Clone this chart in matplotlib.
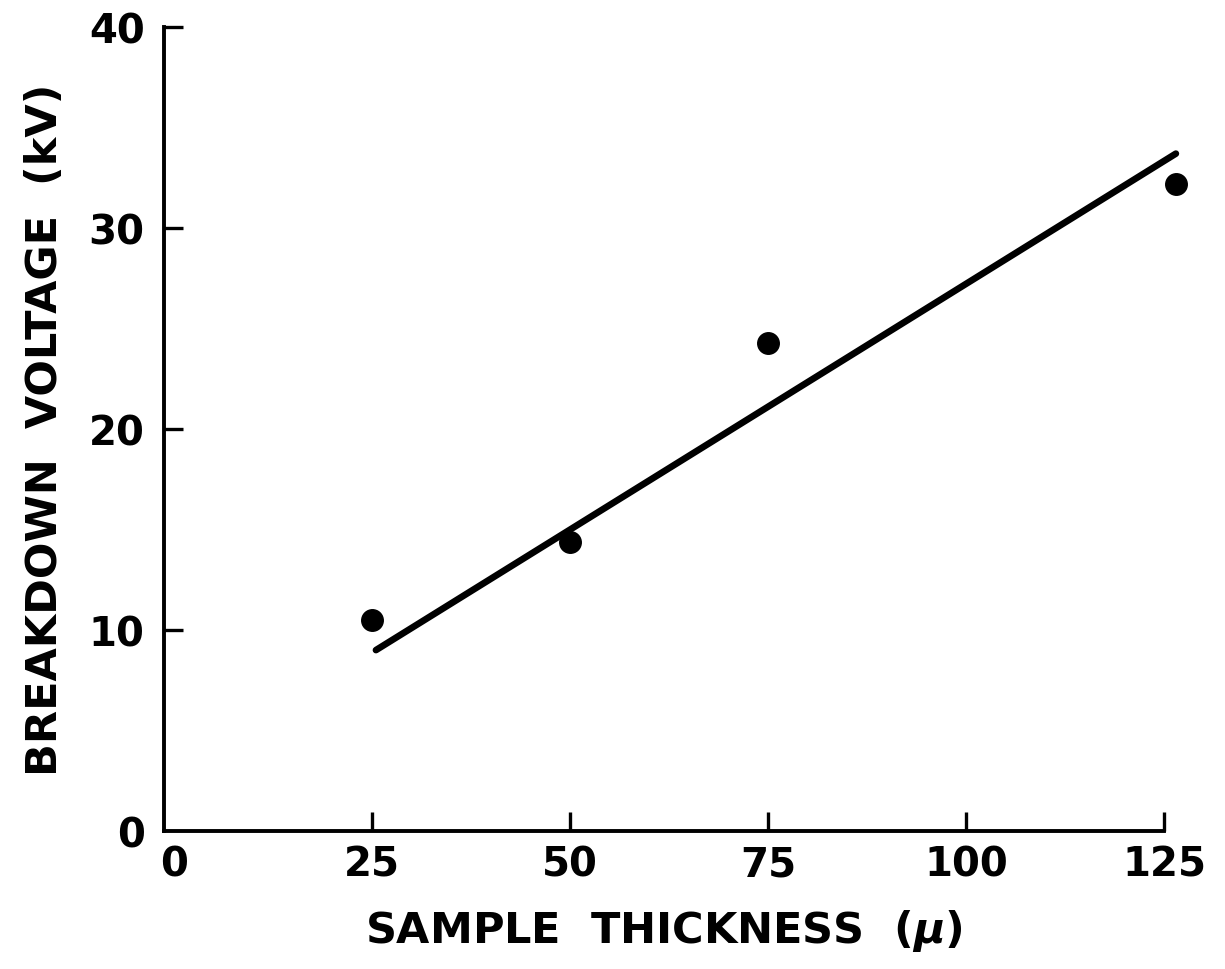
import numpy as np
import matplotlib.pyplot as plt

# breakdown voltage vs. sample thickness
thickness_um = [25, 50, 75, 126.5]
voltage_kv = [10.5, 14.4, 24.3, 32.2]

# straight-line fit drawn across the data
fit_x = [25.5, 126.5]
fit_y = [9.0, 33.7]

xticks = [0, 25, 50, 75, 100, 125]
yticks = [0, 10, 20, 30, 40]

plt.rcParams["font.family"] = "DejaVu Sans"
plt.rcParams["font.weight"] = "bold"
plt.rcParams["mathtext.fontset"] = "custom"
plt.rcParams["mathtext.it"] = "DejaVu Sans:italic:bold"

fig = plt.figure(figsize=(12.25, 9.7), dpi=100)
ax = fig.add_axes([164 / 1225, 1 - 832 / 970, 1000 / 1225, (832 - 28) / 970])

ax.plot(fit_x, fit_y, color="black", lw=4.8, solid_capstyle="round", clip_on=False)
ax.plot(thickness_um, voltage_kv, "o", color="black", ms=15.5, clip_on=False)

ax.set_xlim(-1.26, 125)
ax.set_ylim(0, 40)
ax.set_xticks(xticks)
ax.set_yticks(yticks)
ax.set_xticklabels([str(v) for v in xticks])
ax.set_yticklabels([str(v) for v in yticks])

for side in ("top", "right"):
    ax.spines[side].set_visible(False)
for side in ("left", "bottom"):
    ax.spines[side].set_linewidth(2.8)

ax.tick_params(direction="in", length=14, width=2.4, labelsize=29, pad=10)
ax.tick_params(axis="y", pad=14)
# the zero tick sits on the y spine, so no separate mark for it
ax.xaxis.get_major_ticks()[0].tick1line.set_visible(False)
ax.yaxis.get_major_ticks()[0].tick1line.set_visible(False)

ax.set_xlabel(r"SAMPLE  THICKNESS  ($\mu$)", fontsize=31,
              fontweight="bold", labelpad=16)
ax.set_ylabel("BREAKDOWN  VOLTAGE  (kV)", fontsize=31,
              fontweight="bold", labelpad=16)

fig.savefig("out.png", dpi=100)
